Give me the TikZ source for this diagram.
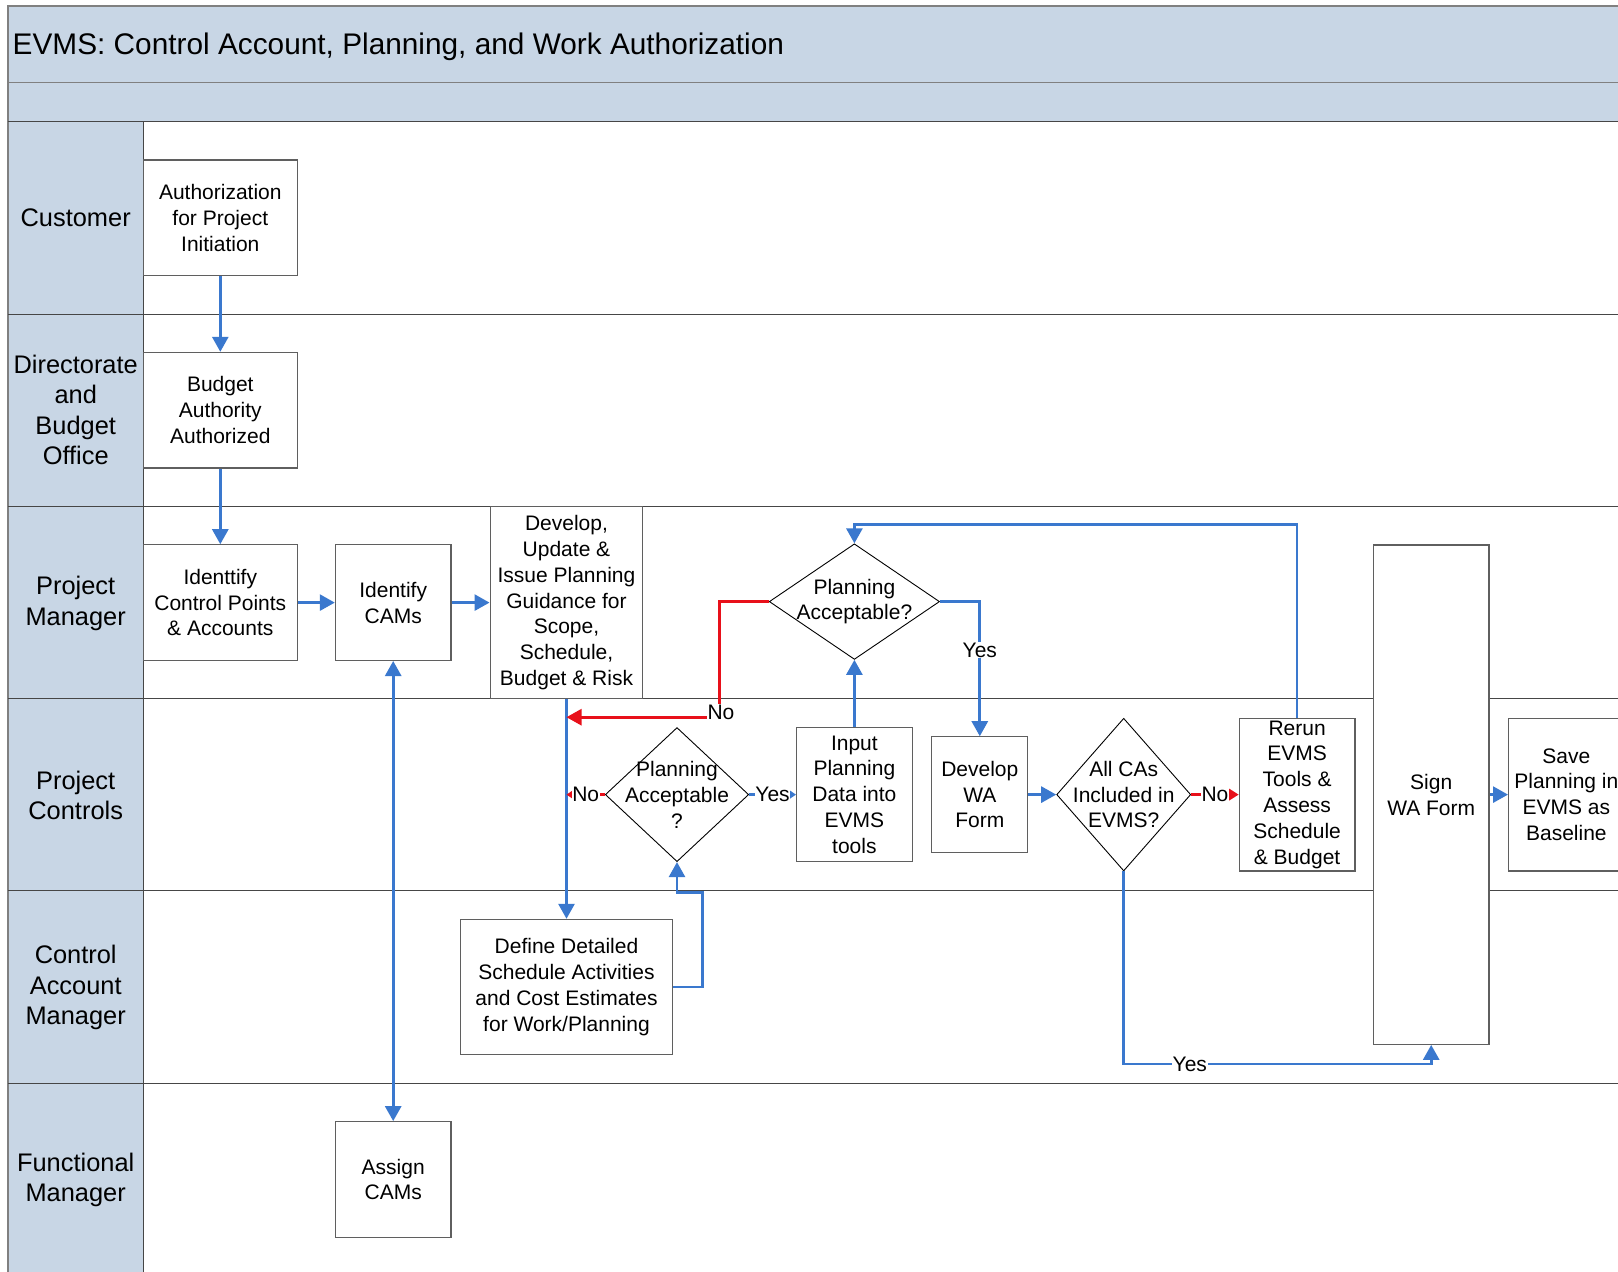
\documentclass[tikz,border=0pt]{standalone}
\usepackage{fontspec}
\setmainfont{Liberation Sans}
\usetikzlibrary{arrows.meta,shapes.geometric,calc}
\definecolor{lanefill}{RGB}{200,214,229}
\definecolor{cblue}{RGB}{58,120,206}
\definecolor{cred}{RGB}{232,16,26}
\definecolor{boxline}{RGB}{95,95,95}
\definecolor{laneline}{RGB}{70,70,70}
\newcommand\nodefnt{\fontsize{21}{25.8}\selectfont}
\newcommand\lanefnt{\fontsize{25.4}{30.6}\selectfont}
\newcommand\titlefnt{\fontsize{29.8}{34}\selectfont}
\tikzset{
  box/.style={draw=boxline, line width=1.2pt, fill=white, align=center, font=\nodefnt, inner sep=1pt},
  dia/.style={diamond, draw=black, line width=0.9pt, fill=white, inner sep=0pt},
  diatext/.style={align=center, font=\nodefnt, inner sep=0pt},
  lanelbl/.style={align=center, font=\lanefnt, inner sep=0pt},
  lbl/.style={fill=white, inner sep=0.6pt, font=\nodefnt},
  bl/.style={draw=cblue, line width=2.7pt, -{Triangle[length=15pt,width=16pt]}},
  blsmall/.style={draw=cblue, line width=2.7pt, -{Triangle[length=7pt,width=9pt]}},
  rd/.style={draw=cred, line width=2.7pt, -{Triangle[length=15pt,width=16pt]}},
  rdsmall/.style={draw=cred, line width=2.7pt, -{Triangle[length=7pt,width=9pt]}},
  rdmid/.style={draw=cred, line width=2.7pt, -{Triangle[length=11pt,width=13pt]}},
  sep/.style={draw=laneline, line width=1.2pt}
}
\begin{document}
\begin{tikzpicture}[x=1pt,y=-1pt]
\useasboundingbox (0,0) rectangle (1618,1272);
\clip (0,0) rectangle (1618,1272);
% background bands
\fill[white] (0,0) rectangle (1618,1272);
\fill[lanefill] (8,6) rectangle (1640,121.8);
\fill[lanefill] (8,121.8) rectangle (143.4,1290);
\draw[sep, draw=gray] (8,1290) -- (8,6) -- (1640,6);
\draw[sep, draw=gray] (8,82.6) -- (1640,82.6);
\draw[sep] (8,121.8) -- (1640,121.8);
\foreach \yy in {314.7,506.7,698.6,890.5,1083.5} {\draw[sep] (8,\yy) -- (1640,\yy);}
\draw[sep] (143.4,121.8) -- (143.4,1290);
\node[anchor=west, font=\titlefnt, inner sep=0pt] (title) at (12.5,46.5) {EVMS: Control Account, Planning, and Work Authorization};
% lane labels
\node[lanelbl] (lcust) at (75.7,218) {Customer};
\node[lanelbl] (ldir) at (75.7,410) {Directorate\\and\\Budget\\Office};
\node[lanelbl] (lpm) at (75.7,603.5) {Project\\Manager};
\node[lanelbl] (lpc) at (75.7,795.5) {Project\\Controls};
\node[lanelbl] (lcam) at (75.7,987.5) {Control\\Account\\Manager};
\node[lanelbl] (lfm) at (75.7,1180) {Functional\\Manager};
% boxes
\node[box, minimum width=153.8pt, minimum height=115.6pt] (auth) at (220.3,217.7) {Authorization\\for Project\\Initiation};
\node[box, minimum width=153.8pt, minimum height=115.6pt] (budget) at (220.3,410.2) {Budget\\Authority\\Authorized};
\node[box, minimum width=153.8pt, minimum height=115.6pt] (idcp) at (220.3,602.6) {Identtify\\Control Points\\\& Accounts};
\node[box, minimum width=115.6pt, minimum height=115.6pt] (idcam) at (393.2,602.6) {Identify\\CAMs};
\node[box, minimum width=152.7pt, minimum height=192pt] (guide) at (566.5,602.6) {Develop,\\Update \&\\Issue Planning\\Guidance for\\Scope,\\Schedule,\\Budget \& Risk};
\node[dia, minimum width=170.3pt, minimum height=115.6pt] (dia1) at (854.4,601.6) {};
\node[diatext] (dia1t) at (dia1.center) {Planning\\Acceptable?};
\node[box, minimum width=115.6pt, minimum height=134.1pt] (input) at (854.4,794.6) {Input\\Planning\\Data into\\EVMS\\tools};
\node[dia, minimum width=143.4pt, minimum height=134.1pt] (dia2) at (677,794.6) {};
\node[diatext] (dia2t) at (dia2.center) {Planning\\Acceptable\\?};
\node[box, minimum width=96pt, minimum height=115.6pt] (devwa) at (979.8,794.6) {Develop\\WA\\Form};
\node[dia, minimum width=134.1pt, minimum height=152.7pt] (dia3) at (1123.7,794.6) {};
\node[diatext] (dia3t) at (dia3.center) {All CAs\\Included in\\EVMS?};
\node[box, minimum width=115.6pt, minimum height=152.7pt] (rerun) at (1297.1,794.6) {Rerun\\EVMS\\Tools \&\\Assess\\Schedule\\\& Budget};
\node[box, minimum width=115.6pt, minimum height=499.4pt] (sign) at (1431.2,794.6) {Sign\\WA Form};
\node[box, minimum width=115.6pt, minimum height=152.7pt] (save) at (1566.4,794.6) {Save\\Planning in\\EVMS as\\Baseline};
\node[box, minimum width=211.5pt, minimum height=135.2pt] (define) at (566.5,987) {Define Detailed\\Schedule Activities\\and Cost Estimates\\for Work/Planning};
\node[box, minimum width=115.6pt, minimum height=115.6pt] (assign) at (393.2,1179.5) {Assign\\CAMs};
% helper coordinates
\coordinate (nocorner) at (719.2,717.2);
\coordinate (nohit) at (566.5,717.2);
\coordinate (topret) at (854.4,524.2);
\coordinate (yesbot) at (1431.2,1063.9);
\coordinate (dl1) at (702.7,892.6);
% connectors
\draw[bl] (auth) -- (budget);
\draw[bl] (budget) -- (idcp);
\draw[bl] (idcp) -- (idcam);
\draw[bl] (idcam) -- (guide);
\draw[bl, {Triangle[length=15pt,width=16pt]}-{Triangle[length=15pt,width=16pt]}] (idcam) -- (assign);
\draw[bl] (guide.south) -- (define.north);
\draw[rd] (dia1.west) -| (nocorner) -- (nohit);
\node[lbl] (no1) at (721,712) {No};
\draw[rdsmall] (dia2.west) -- (guide.south |- dia2.west) node[midway, lbl] (no2) {No};
\draw[blsmall] (dia2.east) -- (input.west) node[midway, lbl] (yes2) {Yes};
\draw[bl] (input.north) -- (dia1.south);
\draw[bl] (dia1.east) -| (devwa.north);
\node[lbl] (yes1) at (979.8,650) {Yes};
\draw[bl] (devwa.east) -- (dia3.west);
\draw[rdmid] (dia3.east) -- (rerun.west) node[midway, lbl] (no3) {No};
\draw[bl] (rerun.north) |- (topret) -- (dia1.north);
\draw[bl] (dia3.south) |- (yesbot) -- (sign.south);
\node[lbl] (yes3) at (1189.8,1063.9) {Yes};
\draw[bl] (sign.east) -- (save.west);
\draw[bl] (define.east) -| (dl1) -| (dia2.south);
\end{tikzpicture}
\end{document}
